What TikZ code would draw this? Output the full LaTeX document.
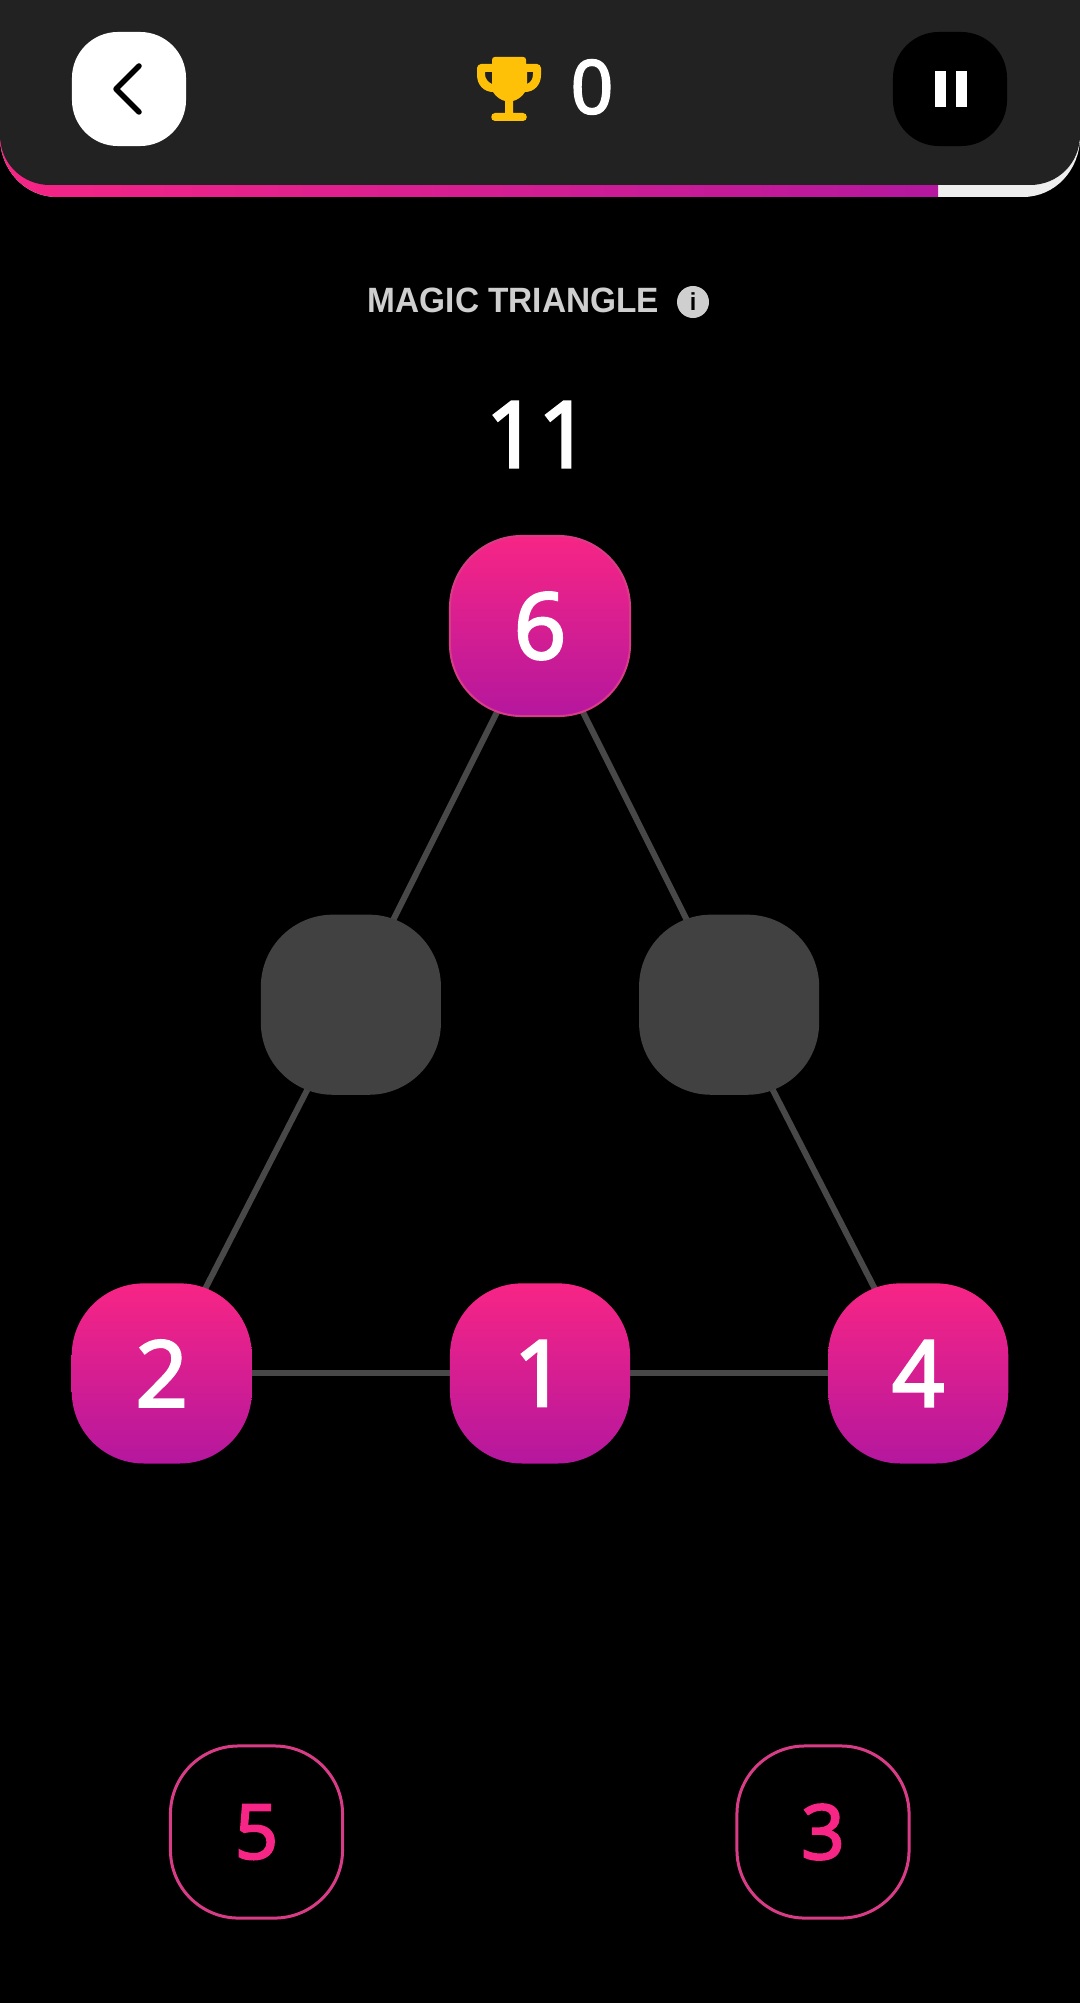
\documentclass[tikz,border=0pt]{standalone}
\usepackage{fontspec}
\setmainfont{Liberation Sans}
\newfontfamily\digitfont[FakeBold=3]{Open Sans}
\newfontfamily\titlefont[FakeStretch=0.95]{Liberation Sans Bold}
\usetikzlibrary{shapes.geometric}
\definecolor{pinktop}{HTML}{F72585}
\definecolor{pinkbot}{HTML}{B5179E}
\definecolor{pinkline}{HTML}{D83C86}
\definecolor{panelgrey}{HTML}{222222}
\definecolor{linegrey}{HTML}{484848}
\definecolor{blankgrey}{HTML}{414141}
\definecolor{titlegrey}{HTML}{CFCFCF}
\definecolor{barwhite}{HTML}{EEEEEE}
\definecolor{cupyellow}{HTML}{FFC107}
\tikzstyle{connector} = [line width=0.6mm, linegrey, shorten >=-1mm, shorten <=-1mm]
\tikzstyle{tile} = [minimum size=1.8cm, inner sep=0pt, outer sep=0pt, rounded corners=0.72cm, top color=pinktop, bottom color=pinkbot, text=white, font=\digitfont\fontsize{26}{30}\selectfont]
\tikzstyle{blank} = [minimum size=1.8cm, inner sep=0pt, outer sep=0pt, rounded corners=0.72cm, fill=blankgrey]
\tikzstyle{slot} = [minimum size=1.72cm, inner sep=0pt, outer sep=0pt, rounded corners=0.68cm, draw=pinkline, line width=0.3mm, text=pinktop, font=\digitfont\fontsize{21.5}{26}\selectfont]
\tikzstyle{btn} = [minimum size=1.14cm, inner sep=0pt, outer sep=0pt, rounded corners=0.46cm]
\pgfdeclarelayer{front}
\pgfsetlayers{main,front}
\begin{document}
\begin{tikzpicture}[x=0.01cm, y=-0.01cm]
                \useasboundingbox (0,0) rectangle (1080,2003);
                \fill [black] (0,0) rectangle (1080,2003);

                % top bar
                \fill [barwhite] (0,0) -- (0,137) .. controls (0,170) and (25,197) .. (57,197) -- (1023,197) .. controls (1055,197) and (1080,170) .. (1080,137) -- (1080,0) -- cycle;
                \begin{scope}
                    \clip (0,0) -- (0,137) .. controls (0,170) and (25,197) .. (57,197) -- (1023,197) .. controls (1055,197) and (1080,170) .. (1080,137) -- (1080,0) -- cycle;
                    \shade [left color=pinktop, right color=pinkbot] (0,0) rectangle (938,197);
                \end{scope}
                \fill [panelgrey] (0,0) -- (0,135) .. controls (0,163) and (22,185) .. (50,185) -- (1030,185) .. controls (1058,185) and (1080,163) .. (1080,135) -- (1080,0) -- cycle;

                \begin{pgfonlayer}{front}
                \node (back) [btn, fill=white] at (129,89) {};
                \node (pause) [btn, fill=black] at (950,89) {};
                \node (score) [text=white, inner sep=0pt, font=\digitfont\fontsize{21}{25}\selectfont] at (592,87) {0};
                \node (title) [text=titlegrey, inner sep=0pt, font=\titlefont\fontsize{10}{12}\selectfont] at (513.5,300.5) {MAGIC TRIANGLE};
                \node (info) [circle, fill=titlegrey, minimum size=0.32cm, inner sep=0pt, font=\titlefont\fontsize{7}{8}\selectfont] at (693,302) {i};
                \node (sum) [text=white, inner sep=0pt, font=\digitfont\fontsize{26}{30}\selectfont] at (538,434.5) {11};

                \node (six) [tile, draw=pinkline, line width=0.2mm] at (540,626) {6};
                \node (one) [tile, below of=six, node distance=7.47cm] {1};
                \node (two) [tile, left of=one, node distance=3.78cm] {2};
                \node (four) [tile, right of=one, node distance=3.78cm] {4};
                \node (blankl) [blank, below of=six, xshift=-1.89cm, node distance=3.785cm] {};
                \node (blankr) [blank, below of=six, xshift=1.89cm, node distance=3.785cm] {};

                \node (five) [slot] at (256.5,1832) {5};
                \node (three) [slot] at (823,1832) {3};

                \draw [line width=0.55mm, line cap=round, line join=round] (139,66) -- (116,89) -- (139,112);
                \fill [white] (935,71) rectangle (946,107);
                \fill [white] (956,71) rectangle (967,107);
                % trophy
                \fill [cupyellow, even odd rule] (495,57) -- (523,57) .. controls (525,57) and (526,58) .. (526,60) -- (526,64) -- (537,64) .. controls (539,64) and (541,66) .. (541,68) -- (541,75) .. controls (541,85) and (534,92) .. (525,92) .. controls (522,97) and (517,100) .. (513,101) -- (513,113) -- (523,113) .. controls (528,113) and (528,121) .. (523,121) -- (495,121) .. controls (490,121) and (490,113) .. (495,113) -- (505,113) -- (505,101) .. controls (501,100) and (496,97) .. (493,92) .. controls (484,92) and (477,85) .. (477,75) -- (477,68) .. controls (477,66) and (479,64) .. (481,64) -- (492,64) -- (492,60) .. controls (492,58) and (493,57) .. (495,57) -- cycle
                    (485,72) -- (492,72) -- (492,84) .. controls (488,82) and (485,79) .. (485,74) -- cycle
                    (527,72) -- (533,72) -- (533,74) .. controls (533,79) and (531,82) .. (527,84) -- cycle;
                \end{pgfonlayer}

                \draw [connector] (six) -- (blankl);
                \draw [connector] (blankl) -- (two);
                \draw [connector] (six) -- (blankr);
                \draw [connector] (blankr) -- (four);
                \draw [connector] (two) -- (one);
                \draw [connector] (one) -- (four);
            \end{tikzpicture}
\end{document}
